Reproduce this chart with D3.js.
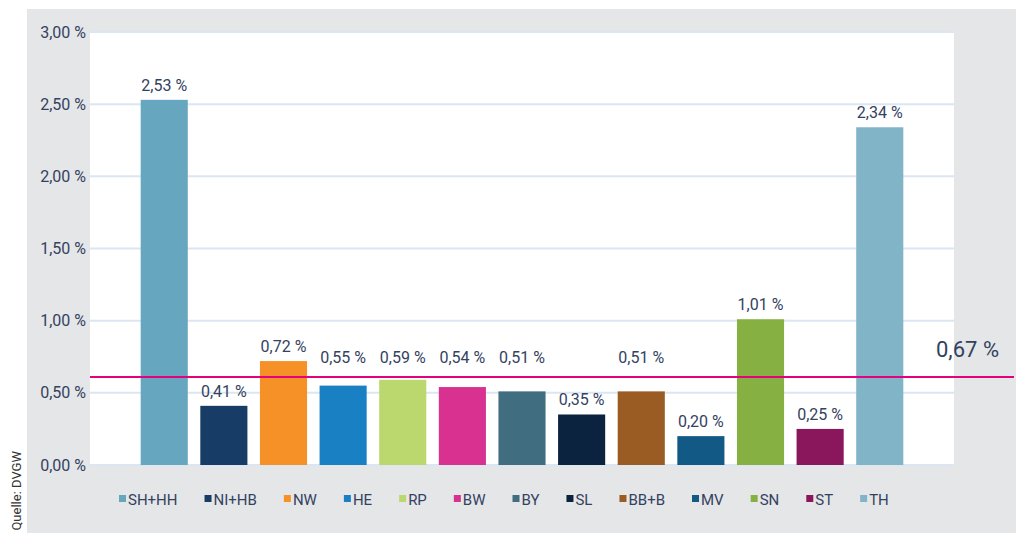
<!DOCTYPE html>
<html>
<head>
<meta charset="utf-8">
<script src="https://cdn.jsdelivr.net/npm/d3@7"></script>
<style>
  body { margin: 0; background: #fff; }
  svg text { font-family: Roboto, "Liberation Sans", sans-serif; }
</style>
</head>
<body>
<svg width="1016" height="533"></svg>
<script>
// Bundesländer and their values (in %)
const regions = ["SH+HH", "NI+HB", "NW", "HE", "RP", "BW", "BY", "SL", "BB+B", "MV", "SN", "ST", "TH"];
const values = [2.53, 0.41, 0.72, 0.55, 0.59, 0.54, 0.51, 0.35, 0.51, 0.20, 1.01, 0.25, 2.34];
const colors = ["#67a6bf", "#173c65", "#f59127", "#1a80c4", "#bad86e", "#d93190", "#416d80",
  "#0c2340", "#9a5c23", "#135985", "#87b043", "#8a175b", "#82b4c8"];
const yTicks = [0, 0.5, 1.0, 1.5, 2.0, 2.5, 3.0];

// average line (drawn level, label as printed)
const avgLevel = 0.61;
const avgLabel = "0,67 %";
const source = "Quelle: DVGW";

let svg = d3.select("svg"),
  width = +svg.attr("width"),
  height = +svg.attr("height");

const textColor = "#33425f";
const plot = { left: 90, right: 954, top: 31, bottom: 465 };

// grey panel
svg.append("rect")
  .attr("x", 27).attr("y", 9)
  .attr("width", width - 27).attr("height", height - 9)
  .attr("fill", "#e5e6e8");

svg.append("rect")
  .attr("x", plot.left).attr("y", plot.top)
  .attr("width", plot.right - plot.left).attr("height", plot.bottom - plot.top)
  .attr("fill", "#fff");

let x = d3.scaleBand()
  .domain(regions)
  .range([plot.left, plot.right])
  .paddingInner(0.21)
  .paddingOuter(0.85);

let y = d3.scaleLinear()
  .domain([0, 3])
  .range([plot.bottom, 32]);

const fmt = v => d3.format(".2f")(v).replace(".", ",") + " %";

// gridlines
svg.append("g")
  .selectAll("line")
  .data(yTicks)
  .enter()
  .append("line")
  .attr("x1", plot.left)
  .attr("x2", plot.right)
  .attr("y1", d => y(d))
  .attr("y2", d => y(d))
  .attr("stroke", "#dbe6f2")
  .attr("stroke-width", 2);

// y axis labels
let yAxis = svg.append("g")
  .attr("transform", "translate(" + plot.left + ",0)")
  .call(d3.axisLeft(y).tickValues(yTicks).tickFormat(fmt).tickSize(0).tickPadding(4));
yAxis.select(".domain").remove();
yAxis.selectAll("text")
  .attr("fill", textColor)
  .style("font-size", "16px");

// bars
svg.append("g")
  .selectAll("rect")
  .data(values)
  .enter()
  .append("rect")
  .attr("x", (d, i) => x(regions[i]))
  .attr("y", d => y(d))
  .attr("width", x.bandwidth())
  .attr("height", d => y(0) - y(d))
  .attr("fill", (d, i) => colors[i]);

// value labels; those that would sit on the average line are lifted above it
const lineY = y(avgLevel);
svg.append("g")
  .selectAll("text")
  .data(values)
  .enter()
  .append("text")
  .attr("x", (d, i) => x(regions[i]) + x.bandwidth() / 2)
  .attr("y", function (d) {
    let base = y(d) - 9;
    if (base + 8 > lineY && base - 14 < lineY + 2) base = lineY - 14;
    return base;
  })
  .attr("text-anchor", "middle")
  .attr("fill", textColor)
  .style("font-size", "16px")
  .text(fmt);

// average line
svg.append("line")
  .attr("x1", plot.left)
  .attr("x2", 1014)
  .attr("y1", lineY)
  .attr("y2", lineY)
  .attr("stroke", "#e5007d")
  .attr("stroke-width", 2);

svg.append("text")
  .attr("x", 999)
  .attr("y", lineY - 20)
  .attr("text-anchor", "end")
  .attr("fill", textColor)
  .style("font-size", "22px")
  .text(avgLabel);

// legend, laid out left to right
let legend = svg.append("g").attr("class", "legend");
let lx = 119;
regions.forEach(function (r, i) {
  let item = legend.append("g").attr("transform", "translate(" + lx + ",0)");
  item.append("rect")
    .attr("x", 0).attr("y", 495)
    .attr("width", 7).attr("height", 7)
    .attr("fill", colors[i]);
  let t = item.append("text")
    .attr("x", 9).attr("y", 505)
    .attr("fill", textColor)
    .style("font-size", "15px")
    .text(r);
  lx += 9 + t.node().getComputedTextLength() + 27;
});

// source note
svg.append("text")
  .attr("transform", "translate(21,451) rotate(-90)")
  .attr("text-anchor", "end")
  .attr("fill", "#333")
  .style("font-size", "13px")
  .text(source);
</script>
</body>
</html>
